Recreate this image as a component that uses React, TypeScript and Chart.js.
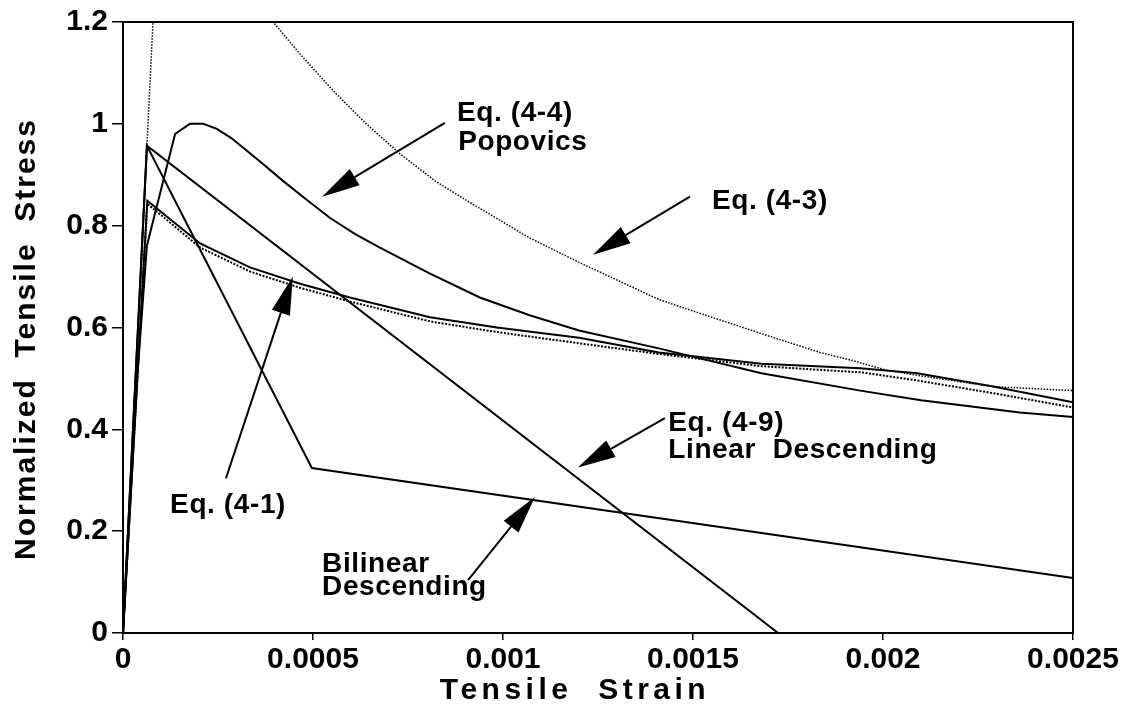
import React, { useEffect, useRef } from 'react';
import { Chart, registerables } from 'chart.js';

Chart.register(...registerables);

const FONT = '"Liberation Sans", Arial, Helvetica, sans-serif';

// Eq. (4-3): steep elastic branch that leaves the plot, then a power-type decay
const eq43Strain = [0, 0.0001, 0.000345, 0.000395, 0.000466, 0.000553, 0.00064, 0.000729, 0.000821, 0.000905, 0.00107, 0.0012, 0.00141, 0.00155, 0.00168, 0.001834, 0.00192, 0.00201, 0.00209, 0.00229, 0.0025];
const eq43Stress = [0, 1.52, 1.27, 1.2, 1.137, 1.065, 1.0, 0.941, 0.888, 0.849, 0.776, 0.728, 0.655, 0.62, 0.588, 0.551, 0.535, 0.516, 0.506, 0.484, 0.476];

// Eq. (4-1)
const eq41Strain = [0, 0.000064, 0.000203, 0.000334, 0.000466, 0.000597, 0.000808, 0.000984, 0.0012, 0.00141, 0.00168, 0.00194, 0.00209, 0.00229, 0.0025];
const eq41Stress = [0, 0.849, 0.765, 0.718, 0.686, 0.659, 0.62, 0.6, 0.58, 0.551, 0.529, 0.52, 0.51, 0.484, 0.453];

// Companion dotted curve running just under Eq. (4-1)
const companionStrain = [0, 0.000064, 0.000203, 0.000334, 0.000466, 0.000597, 0.000808, 0.000984, 0.0012, 0.00141, 0.00168, 0.00194, 0.00209, 0.00229, 0.0025];
const companionStress = [0, 0.843, 0.757, 0.71, 0.678, 0.651, 0.612, 0.591, 0.569, 0.548, 0.524, 0.512, 0.496, 0.471, 0.443];

// Eq. (4-4) Popovics
const popovicsStrain = [0, 0.0000368, 0.000063, 0.000137, 0.000176, 0.000211, 0.000247, 0.000285, 0.000326, 0.00037, 0.000421, 0.00048, 0.000545, 0.00061, 0.000676, 0.000808, 0.000939, 0.00107, 0.0012, 0.00141, 0.00168, 0.00194, 0.0021, 0.00236, 0.0025];
const popovicsStress = [0, 0.496, 0.761, 0.98, 1.0, 1.0, 0.99, 0.972, 0.947, 0.92, 0.888, 0.853, 0.815, 0.784, 0.757, 0.706, 0.659, 0.624, 0.594, 0.559, 0.51, 0.476, 0.457, 0.433, 0.424];

// Eq. (4-9) Linear descending
const linearStrain = [0, 0.000063, 0.001724];
const linearStress = [0, 0.957, 0];

// Bilinear descending
const bilinearStrain = [0, 0.000063, 0.000497, 0.0025];
const bilinearStress = [0, 0.957, 0.324, 0.108];

const xTicks = [0, 0.0005, 0.001, 0.0015, 0.002, 0.0025];
const xTickLabels = ['0', '0.0005', '0.001', '0.0015', '0.002', '0.0025'];
const yTicks = [0, 0.2, 0.4, 0.6, 0.8, 1, 1.2];
const yTickLabels = ['0', '0.2', '0.4', '0.6', '0.8', '1', '1.2'];

const xTitle = 'Tensile  Strain';
const yTitle = 'Normalized  Tensile  Stress';

// Callout text, anchored by left edge / baseline in data units
const calloutTexts = [
  { text: 'Eq. (4-4)', x: 0.000879, y: 1.006 },
  { text: 'Popovics', x: 0.000882, y: 0.949 },
  { text: 'Eq. (4-3)', x: 0.00155, y: 0.833 },
  { text: 'Eq. (4-9)', x: 0.001435, y: 0.396 },
  { text: 'Linear  Descending', x: 0.001435, y: 0.343 },
  { text: 'Eq. (4-1)', x: 0.000124, y: 0.235 },
  { text: 'Bilinear', x: 0.000524, y: 0.12 },
  { text: 'Descending', x: 0.000524, y: 0.0745 },
];

// Callout arrows: tail -> tip, in data units
const calloutArrows = [
  { from: [0.000847, 1.002], to: [0.000524, 0.857] },
  { from: [0.001492, 0.857], to: [0.001237, 0.743] },
  { from: [0.001426, 0.422], to: [0.001197, 0.325] },
  { from: [0.000271, 0.304], to: [0.000447, 0.7] },
  { from: [0.000908, 0.104], to: [0.001084, 0.267] },
];

const toPoints = (xs: number[], ys: number[]) => xs.map((x, i) => ({ x, y: ys[i] }));

const framePlugin = {
  id: 'frame',
  afterDatasetsDraw(chart: any) {
    const { ctx, chartArea: a } = chart;
    ctx.save();
    ctx.strokeStyle = '#000';
    ctx.lineWidth = 2;
    ctx.strokeRect(a.left, a.top, a.right - a.left, a.bottom - a.top);
    ctx.restore();
  },
};

const calloutPlugin = {
  id: 'callouts',
  afterDraw(chart: any) {
    const { ctx } = chart;
    const xs = chart.scales.x;
    const ys = chart.scales.y;
    ctx.save();
    ctx.fillStyle = '#000';
    ctx.strokeStyle = '#000';
    ctx.font = `bold 28px ${FONT}`;
    (ctx as any).letterSpacing = '0.6px';
    ctx.textAlign = 'left';
    ctx.textBaseline = 'alphabetic';
    calloutTexts.forEach((t) => {
      ctx.fillText(t.text, xs.getPixelForValue(t.x), ys.getPixelForValue(t.y));
    });
    const headLen = 38;
    const headHalf = 9.5;
    calloutArrows.forEach((a) => {
      const x0 = xs.getPixelForValue(a.from[0]);
      const y0 = ys.getPixelForValue(a.from[1]);
      const x1 = xs.getPixelForValue(a.to[0]);
      const y1 = ys.getPixelForValue(a.to[1]);
      const ang = Math.atan2(y1 - y0, x1 - x0);
      const bx = x1 - headLen * Math.cos(ang);
      const by = y1 - headLen * Math.sin(ang);
      ctx.lineWidth = 2;
      ctx.beginPath();
      ctx.moveTo(x0, y0);
      ctx.lineTo(bx, by);
      ctx.stroke();
      ctx.beginPath();
      ctx.moveTo(x1, y1);
      ctx.lineTo(bx + headHalf * Math.sin(ang), by - headHalf * Math.cos(ang));
      ctx.lineTo(bx - headHalf * Math.sin(ang), by + headHalf * Math.cos(ang));
      ctx.closePath();
      ctx.fill();
    });

    // axis titles
    const a = chart.chartArea;
    ctx.font = `bold 30px ${FONT}`;
    ctx.textAlign = 'center';
    ctx.textBaseline = 'middle';
    (ctx as any).letterSpacing = '4.5px';
    ctx.fillText(xTitle, a.left + 452, a.bottom + 58);
    (ctx as any).letterSpacing = '2px';
    ctx.translate(27, a.top + 317);
    ctx.rotate(-Math.PI / 2);
    ctx.fillText(yTitle, 0, 0);
    ctx.restore();
  },
};

export default function App() {
  const canvasRef = useRef<HTMLCanvasElement | null>(null);

  useEffect(() => {
    if (!canvasRef.current) return;
    const line = (data: any[], dash: number[], width: number) => ({
      data,
      showLine: true,
      borderColor: '#000',
      backgroundColor: '#000',
      borderWidth: width,
      borderDash: dash,
      pointRadius: 0,
      tension: 0,
      fill: false,
    });
    const tickFont = { family: FONT, size: 30, weight: 'bold' as const };
    const chart = new Chart(canvasRef.current, {
      type: 'scatter',
      data: {
        datasets: [
          line(toPoints(eq43Strain, eq43Stress), [1.5, 1.5], 1.5),
          line(toPoints(companionStrain, companionStress), [2, 1.5], 2),
          line(toPoints(eq41Strain, eq41Stress), [], 2),
          line(toPoints(popovicsStrain, popovicsStress), [], 2),
          line(toPoints(linearStrain, linearStress), [], 2),
          line(toPoints(bilinearStrain, bilinearStress), [], 2),
        ],
      },
      options: {
        animation: false,
        responsive: false,
        layout: { padding: { top: 21, right: 60, left: 0, bottom: 0 } },
        plugins: { legend: { display: false }, tooltip: { enabled: false } },
        scales: {
          x: {
            type: 'linear',
            min: 0,
            max: 0.0025,
            afterBuildTicks: (s: any) => {
              s.ticks = xTicks.map((v) => ({ value: v }));
            },
            afterFit: (s: any) => {
              s.height = 83;
            },
            ticks: {
              autoSkip: false,
              maxRotation: 0,
              color: '#000',
              font: tickFont,
              padding: 2,
              callback: (_v: any, i: number) => xTickLabels[i],
            },
            grid: { drawOnChartArea: false, drawTicks: true, tickLength: 7, color: '#000', lineWidth: 1.5 },
            border: { display: true, color: '#000', width: 2 },
          },
          y: {
            type: 'linear',
            min: 0,
            max: 1.2,
            afterBuildTicks: (s: any) => {
              s.ticks = yTicks.map((v) => ({ value: v }));
            },
            afterFit: (s: any) => {
              s.width = 123;
            },
            ticks: {
              autoSkip: false,
              color: '#000',
              font: tickFont,
              padding: 4,
              callback: (_v: any, i: number) => yTickLabels[i],
            },
            grid: { drawOnChartArea: false, drawTicks: true, tickLength: 11, color: '#000', lineWidth: 1.5 },
            border: { display: true, color: '#000', width: 2 },
          },
        },
      },
      plugins: [framePlugin, calloutPlugin],
    });
    return () => chart.destroy();
  }, []);

  return (
    <div style={{ position: 'absolute', left: 0, top: 0, width: 1133, height: 716, background: '#fff' }}>
      <canvas ref={canvasRef} width={1133} height={716} style={{ display: 'block' }} />
    </div>
  );
}
